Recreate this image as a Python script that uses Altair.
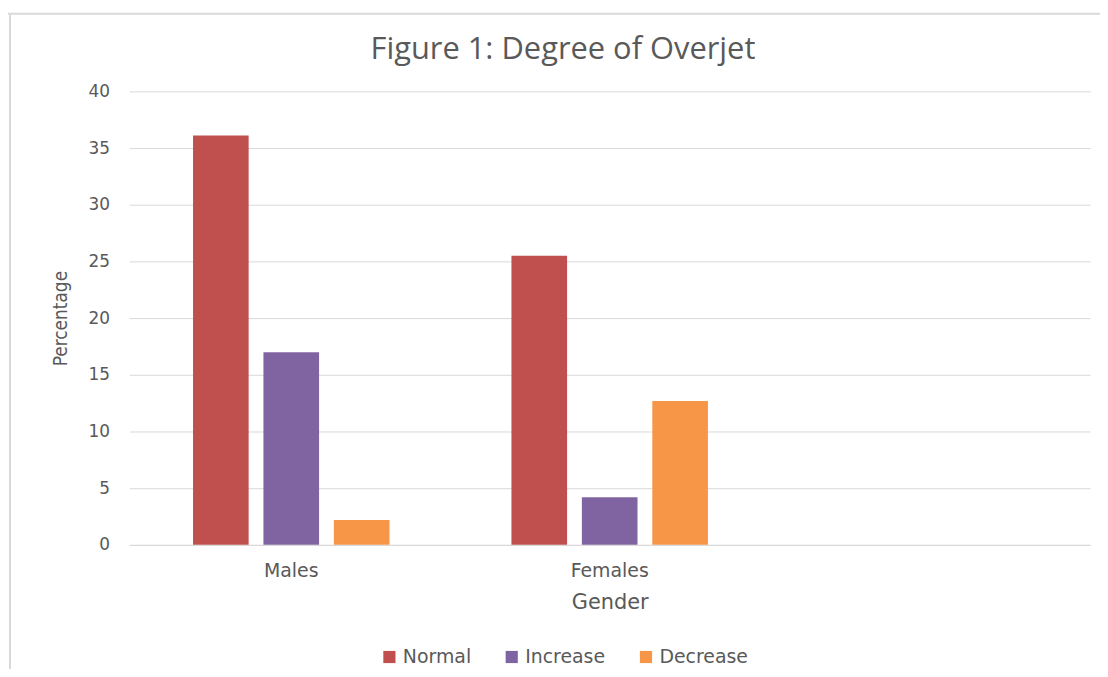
import altair as alt
import pandas as pd

genders = ["Males", "Males", "Males", "Females", "Females", "Females"]
degrees = ["Normal", "Increase", "Decrease", "Normal", "Increase", "Decrease"]
values = [36.1, 17.0, 2.2, 25.5, 4.2, 12.7]

x_domain = ["Males", "Females", "_"]
deg_order = ["Normal", "Increase", "Decrease"]
colors = ["#C0504D", "#8064A2", "#F79646"]
title_text = "Figure 1: Degree of Overjet"

df = pd.DataFrame({"Gender": genders, "Degree": degrees, "Percentage": values})

FONT = "DejaVu Sans"
TFONT = "Open Sans"
NARROW = "DejaVu Sans Condensed, Roboto Condensed, Open Sans"

bars = alt.Chart(df).mark_bar().encode(
    x=alt.X("Gender:N", scale=alt.Scale(domain=x_domain, paddingInner=0.383, paddingOuter=0.2),
            axis=alt.Axis(title="Gender", labelAngle=0, labelExpr="datum.value == '_' ? '' : datum.value",
                          ticks=False, domainColor="#d9d9d9", labelPadding=17, titlePadding=11,
                          labelFontSize=19, titleFontSize=21)),
    xOffset=alt.XOffset("Degree:N", sort=deg_order, scale=alt.Scale(domain=deg_order, paddingInner=0.21, paddingOuter=0)),
    y=alt.Y("Percentage:Q", scale=alt.Scale(domain=[0, 40]),
            axis=alt.Axis(title="Percentage", values=[0, 5, 10, 15, 20, 25, 30, 35, 40], domain=False, ticks=False,
                          labelPadding=20, titlePadding=18, labelFontSize=17, titleFontSize=19,
                          titleFont=NARROW, titleFontWeight="normal")),
    color=alt.Color("Degree:N", sort=deg_order, scale=alt.Scale(domain=deg_order, range=colors),
                    legend=alt.Legend(title=None, orient="none", legendX=252, legendY=559,
                                      direction="horizontal", symbolType="square",
                                      symbolSize=150, symbolStrokeWidth=0, labelFontSize=19, columnPadding=31)),
)

frame_df = pd.DataFrame({"k": [0]})
top_line = alt.Chart(frame_df).mark_rule(color="#d9d9d9", strokeWidth=2).encode(
    x=alt.value(-125), x2=alt.value(980), y=alt.value(-78))
left_line = alt.Chart(frame_df).mark_rule(color="#d9d9d9", strokeWidth=2).encode(
    x=alt.value(-120), y=alt.value(-78), y2=alt.value(590))
title_df = pd.DataFrame({"t": [title_text]})
title_mark = alt.Chart(title_df).mark_text(
    font=TFONT, fontSize=31, color="#595959", align="center", baseline="middle"
).encode(text="t:N", x=alt.value(436), y=alt.value(-42))

chart = alt.layer(top_line, left_line, bars, title_mark).properties(
    width=966, height=456,
    autosize=alt.AutoSizeParams(type="none"),
    padding={"left": 122, "top": 82, "right": 10, "bottom": 123},
).configure_view(stroke=None).configure_axis(
    gridColor="#d9d9d9", labelColor="#595959", titleColor="#595959", labelFont=FONT, titleFont=FONT,
    titleFontWeight="normal"
).configure_legend(labelColor="#595959", labelFont=FONT)

chart.save("out.html", embed_options={"renderer": "svg", "actions": False})
